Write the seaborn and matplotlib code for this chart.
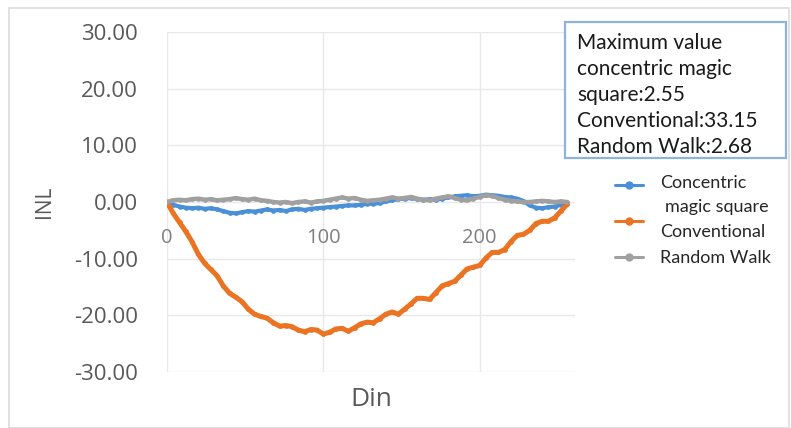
import numpy as np
import pandas as pd
import matplotlib
matplotlib.use("Agg")
import matplotlib.pyplot as plt
from matplotlib.patches import Rectangle
from matplotlib.lines import Line2D
import seaborn as sns

# Digital input codes (sampled every 4 codes)
din = list(range(0, 257, 4))

concentric = [0.0, -0.5, -0.8, -1.0, -1.1, -1.0, -1.2, -1.1, -1.3, -1.6,
              -1.9, -2.0, -1.8, -1.6, -1.7, -1.5, -1.3, -1.5, -1.4, -1.6,
              -1.3, -1.2, -1.4, -1.2, -1.1, -1.0, -0.9, -0.8, -0.7, -0.6,
              -0.6, -0.5, -0.3, -0.3, -0.2, 0.1, 0.3, 0.5, 0.6, 0.7,
              0.5, 0.4, 0.5, 0.4, 0.6, 0.8, 1.0, 1.1, 1.2, 1.0,
              1.1, 1.3, 1.2, 1.1, 0.9, 0.8, 0.6, 0.2, -0.6, -1.0,
              -1.1, -0.9, -0.8, -0.5, -0.1]

conventional = [0.0, -2.0, -3.6, -5.2, -7.0, -9.2, -10.8, -11.9, -13.0, -14.8,
                -16.1, -16.8, -17.6, -18.9, -19.8, -20.2, -20.5, -21.3, -21.9, -21.8,
                -22.0, -22.6, -22.9, -22.5, -22.6, -23.3, -23.0, -22.4, -22.3, -22.8,
                -22.2, -21.5, -21.2, -21.3, -20.6, -19.8, -19.4, -19.8, -18.9, -18.0,
                -17.0, -17.0, -17.2, -16.0, -14.8, -14.4, -14.0, -12.9, -11.8, -11.5,
                -11.2, -9.9, -8.9, -8.9, -8.4, -7.0, -5.9, -5.7, -5.0, -3.8,
                -3.4, -3.4, -2.8, -1.6, -0.4]

random_walk = [0.0, 0.3, 0.4, 0.3, 0.5, 0.6, 0.4, 0.5, 0.3, 0.4,
               0.5, 0.7, 0.5, 0.4, 0.6, 0.3, 0.2, 0.0, -0.1, 0.0,
               -0.2, 0.0, 0.1, -0.1, 0.1, 0.2, 0.4, 0.6, 0.8, 0.6,
               0.7, 0.4, 0.2, 0.3, 0.4, 0.6, 0.8, 0.6, 0.7, 0.9,
               0.6, 0.4, 0.3, 0.6, 0.8, 1.0, 0.7, 0.4, 0.3, 0.6,
               0.9, 1.2, 1.1, 0.7, 0.4, 0.2, 0.1, 0.0, 0.0, 0.1,
               0.2, 0.1, 0.0, 0.1, 0.0]

series_names = ["Concentric\n magic square", "Conventional", "Random Walk"]
series_colors = ["#4A90D9", "#EB7322", "#A0A0A0"]
series_widths = [3.0, 3.6, 3.2]
y_ticks = [30, 20, 10, 0, -10, -20, -30]
x_ticks = [0, 100, 200]

W, H = 791, 428
sns.set_theme(style="white")
plt.rcParams["font.family"] = ["Open Sans", "DejaVu Sans"]

fig = plt.figure(figsize=(W / 100, H / 100), dpi=100)
fig.patch.set_facecolor("white")

# outer chart frame
fig.patches.append(Rectangle((9 / W, 0), (789 - 9) / W, 1 - 8 / H,
                             transform=fig.transFigure, fill=False,
                             edgecolor="#DCDCDC", lw=1.2))

ax = fig.add_axes([167 / W, 1 - 372 / H, (575 - 167) / W, (372 - 32) / H])

for vals, name, col, lw in zip([concentric, conventional, random_walk],
                               series_names, series_colors, series_widths):
    df = pd.DataFrame({"Din": din, "INL": vals})
    sns.lineplot(data=df, x="Din", y="INL", ax=ax, color=col, lw=lw,
                 marker="o", markersize=3.4, markeredgewidth=0, label=None,
                 legend=False)

ax.set_xlim(0, 261)
ax.set_ylim(-30, 30)
ax.set_yticks(y_ticks)
ax.set_yticklabels([f"{v:.2f}" for v in y_ticks])
ax.set_xticks(x_ticks)
ax.set_xticklabels([str(v) for v in x_ticks])

for s in ax.spines.values():
    s.set_visible(False)
ax.spines["bottom"].set_position(("data", 0))
ax.grid(True, color="#E8E8E8", lw=1.0)
ax.set_axisbelow(True)

ax.tick_params(axis="y", length=0, pad=21, labelsize=16, labelcolor="#595959")
ax.tick_params(axis="x", length=0, pad=19, labelsize=14.5, labelcolor="#7F7F7F")

ax.set_xlabel("Din", fontsize=19, color="#595959")
ax.set_ylabel("INL", fontsize=15, color="#595959")
ax.xaxis.set_label_coords(0.5, (372 - 400) / 340)
ax.xaxis.label.set_va("center")
ax.yaxis.set_label_coords((45 - 167) / 408, 0.5)
ax.yaxis.label.set_va("center")

# annotation box with the maximum values
fig.patches.append(Rectangle((565 / W, 1 - 158 / H), (786 - 565) / W, (158 - 22) / H,
                             transform=fig.transFigure, fill=True, facecolor="white",
                             edgecolor="#8FB3DD", lw=1.6, zorder=5))
box_lines = ["Maximum value", "concentric magic", "square:2.55",
             "Conventional:33.15", "Random Walk:2.68"]
for i, t in enumerate(box_lines):
    fig.text(577 / W, 1 - (43 + 26 * i) / H, t, ha="left", va="center",
             fontsize=15, color="#1A1A1A", family=["Lato", "DejaVu Sans"], zorder=6)

# legend
legend_rows = [(183, "Concentric", 660), (207, "magic square", 665),
               (232, "Conventional", 660), (258, "Random Walk", 660)]
marker_y = [185, 221, 257]
for y, col in zip(marker_y, series_colors):
    fig.add_artist(Line2D([615 / W, 643 / W], [1 - y / H, 1 - y / H],
                          transform=fig.transFigure, color=col, lw=2.2))
    fig.add_artist(Line2D([629 / W], [1 - y / H], transform=fig.transFigure,
                          color=col, marker="o", markersize=5, lw=0))
for ty, txt, tx in legend_rows:
    fig.text(tx / W, 1 - ty / H, txt, ha="left", va="center", fontsize=13,
             color="#262626", family=["Lato", "DejaVu Sans"])

fig.savefig("out.png", dpi=100, facecolor="white")
